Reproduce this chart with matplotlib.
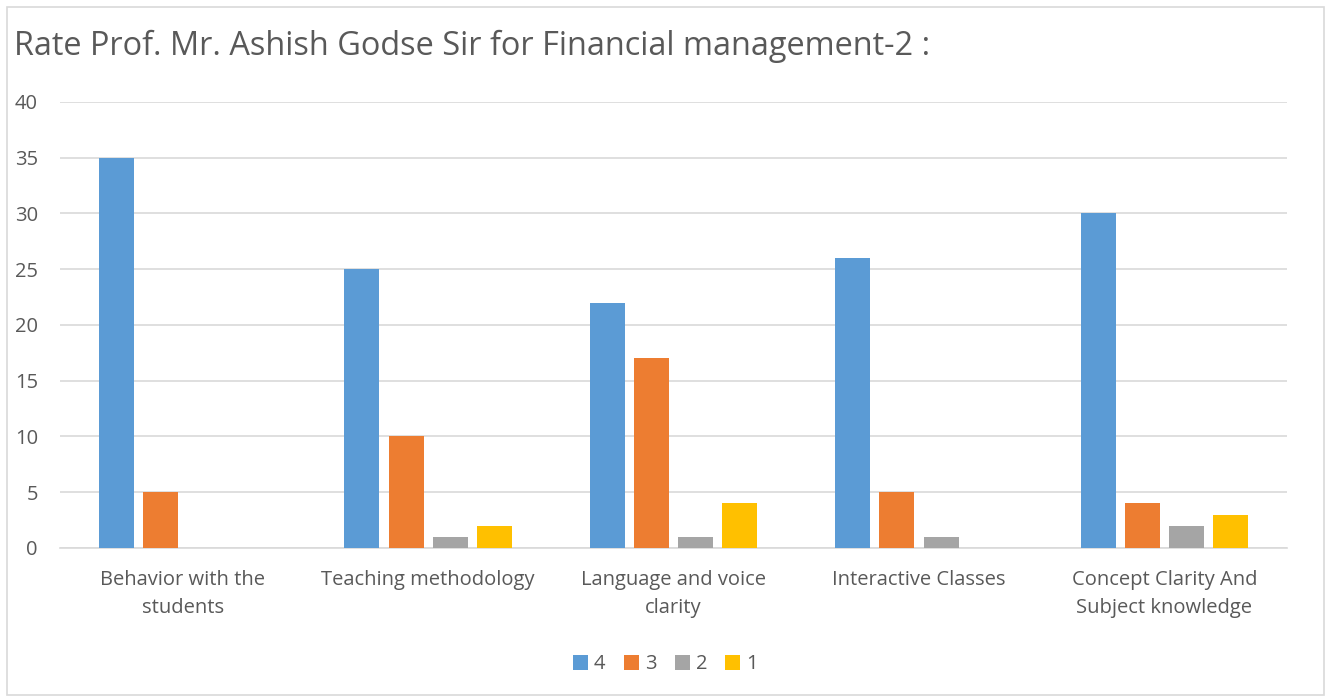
import numpy as np
import matplotlib.pyplot as plt
from matplotlib.patches import Rectangle

# data
categories = ['Behavior with the\nstudents', 'Teaching methodology', 'Language and voice\nclarity',
              'Interactive Classes', 'Concept Clarity And\nSubject knowledge']
series_names = ['4', '3', '2', '1']
r4 = [35, 25, 22, 26, 30]
r3 = [5, 10, 17, 5, 4]
r2 = [0, 1, 1, 1, 2]
r1 = [0, 2, 4, 0, 3]
colors = ['#5B9BD5', '#ED7D31', '#A5A5A5', '#FFC000']

plt.rcParams['font.family'] = ['Open Sans', 'DejaVu Sans']
txt = '#595959'

fig = plt.figure(figsize=(13.31, 6.98), dpi=100)
ax = fig.add_axes([0.0451, 0.2149, 0.967 - 0.0451, 0.8539 - 0.2149])

x = np.arange(len(categories))
w = 0.143
pitch = 0.18
for i, (vals, name) in enumerate(zip([r4, r3, r2, r1], series_names)):
    ax.bar(x + (i - 1.5) * pitch, vals, width=w, color=colors[i], label=name, zorder=3)

ax.set_xlim(-0.5, len(categories) - 0.5)
ax.set_ylim(0, 40)
ax.set_yticks(range(0, 41, 5))
ax.yaxis.grid(True, color='#d9d9d9', linewidth=1.2, zorder=0)
for s in ['top', 'right', 'left']:
    ax.spines[s].set_visible(False)
ax.spines['bottom'].set_color('#d9d9d9')
ax.spines['bottom'].set_linewidth(1.2)
ax.tick_params(axis='both', length=0, labelsize=14.5, labelcolor=txt)
ax.tick_params(axis='y', pad=16)
ax.tick_params(axis='x', pad=16)
ax.set_xticks(x)
ax.set_xticklabels(categories, linespacing=1.5)

fig.text(0.0105, 0.933, 'Rate Prof. Mr. Ashish Godse Sir for Financial management-2 :',
         fontsize=23.4, color=txt, va='center', ha='left')

fig.legend(loc='center', bbox_to_anchor=(0.5, 0.048), ncol=4, frameon=False,
           fontsize=14.5, labelcolor=txt, handlelength=0.75, handleheight=0.75,
           handletextpad=0.3, columnspacing=0.9)

fig.patches.append(Rectangle((0.005, 0.005), 0.99, 0.985, transform=fig.transFigure,
                             fill=False, edgecolor='#d9d9d9', linewidth=1.2))

fig.savefig('out.png', dpi=100)
